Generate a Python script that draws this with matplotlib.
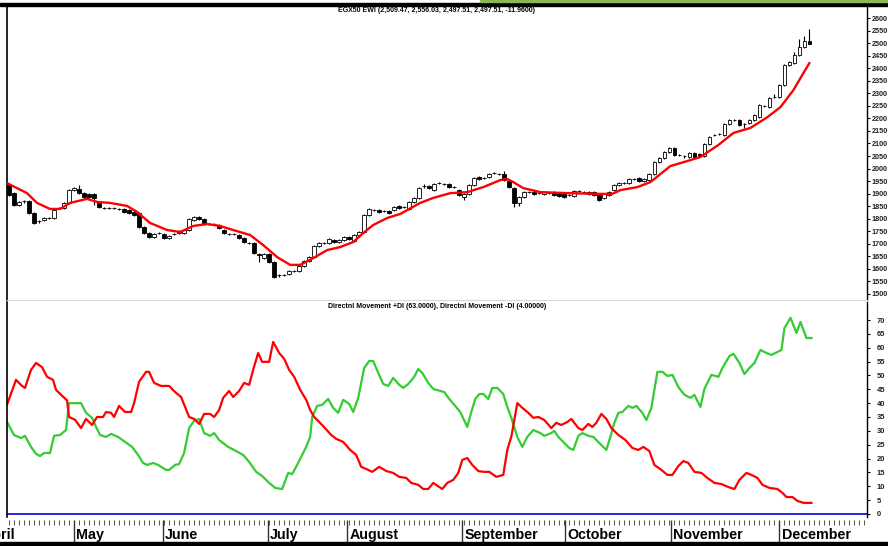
import matplotlib
matplotlib.use("Agg")
import matplotlib.pyplot as plt
from matplotlib.patches import Rectangle

plt.rcParams['font.family'] = ['Liberation Sans', 'DejaVu Sans']

W, H = 888, 546

# EGX50 EWI daily candles (bar index 0..160)
opens = [1934, 1902, 1856, 1870, 1870, 1823, 1791, 1795, 1803, 1803,
         1843, 1843, 1863, 1914, 1918, 1902, 1898, 1898, 1867, 1843,
         1843, 1843, 1839, 1839, 1835, 1827, 1823, 1767, 1743, 1727,
         1743, 1739, 1723, 1739, 1743, 1743, 1755, 1795, 1807, 1799,
         1779, 1779, 1775, 1755, 1739, 1739, 1735, 1723, 1703, 1703,
         1661, 1643, 1659, 1627, 1576, 1576, 1580, 1592, 1592, 1612,
         1632, 1647, 1691, 1703, 1703, 1715, 1707, 1715, 1727, 1711,
         1735, 1747, 1815, 1835, 1835, 1831, 1831, 1835, 1851, 1847,
         1839, 1867, 1882, 1930, 1930, 1914, 1942, 1938, 1938, 1926,
         1914, 1886, 1898, 1934, 1966, 1962, 1966, 1982, 1978, 1978,
         1950, 1922, 1862, 1886, 1906, 1906, 1902, 1898, 1902, 1906,
         1902, 1898, 1894, 1890, 1910, 1906, 1898, 1906, 1894, 1882,
         1894, 1914, 1934, 1942, 1942, 1958, 1962, 1950, 1954, 1978,
         2026, 2042, 2066, 2082, 2054, 2050, 2046, 2062, 2058, 2050,
         2098, 2134, 2138, 2134, 2177, 2193, 2193, 2177, 2181, 2193,
         2205, 2249, 2245, 2285, 2285, 2333, 2413, 2421, 2453, 2484,
         2509.47]
highs = [1942, 1906, 1870, 1874, 1874, 1827, 1795, 1807, 1807, 1839,
         1847, 1867, 1918, 1926, 1934, 1906, 1902, 1902, 1871, 1847,
         1847, 1847, 1843, 1843, 1839, 1831, 1827, 1771, 1747, 1743,
         1747, 1743, 1735, 1743, 1755, 1759, 1803, 1811, 1811, 1803,
         1783, 1783, 1779, 1759, 1743, 1743, 1739, 1727, 1707, 1707,
         1665, 1663, 1663, 1631, 1580, 1580, 1596, 1596, 1616, 1636,
         1651, 1695, 1707, 1707, 1723, 1719, 1719, 1731, 1731, 1739,
         1751, 1819, 1843, 1839, 1839, 1835, 1835, 1851, 1855, 1851,
         1871, 1886, 1926, 1938, 1934, 1942, 1946, 1942, 1942, 1930,
         1918, 1902, 1938, 1966, 1970, 1966, 1982, 1986, 1982, 1990,
         1954, 1926, 1890, 1910, 1910, 1910, 1906, 1910, 1906, 1910,
         1906, 1902, 1898, 1914, 1914, 1910, 1910, 1910, 1898, 1902,
         1910, 1938, 1946, 1946, 1962, 1962, 1966, 1962, 1982, 2030,
         2046, 2070, 2086, 2086, 2058, 2054, 2066, 2066, 2062, 2102,
         2130, 2138, 2142, 2181, 2197, 2197, 2197, 2181, 2197, 2217,
         2257, 2253, 2285, 2297, 2337, 2417, 2429, 2465, 2516, 2528,
         2556.03]
lows = [1890, 1851, 1851, 1863, 1819, 1779, 1783, 1791, 1799, 1799,
        1839, 1839, 1859, 1910, 1898, 1882, 1882, 1855, 1843, 1839,
        1839, 1839, 1835, 1823, 1819, 1811, 1763, 1739, 1723, 1723,
        1739, 1719, 1719, 1735, 1739, 1739, 1751, 1791, 1795, 1775,
        1775, 1775, 1759, 1739, 1735, 1735, 1719, 1703, 1699, 1659,
        1627, 1639, 1623, 1564, 1568, 1572, 1576, 1588, 1588, 1608,
        1628, 1643, 1687, 1699, 1699, 1703, 1703, 1711, 1715, 1707,
        1731, 1743, 1811, 1831, 1823, 1827, 1819, 1831, 1839, 1843,
        1835, 1863, 1878, 1922, 1918, 1910, 1938, 1934, 1922, 1922,
        1890, 1874, 1894, 1930, 1954, 1958, 1962, 1978, 1974, 1950,
        1922, 1847, 1851, 1882, 1902, 1894, 1898, 1894, 1898, 1890,
        1886, 1882, 1890, 1886, 1906, 1902, 1894, 1890, 1870, 1878,
        1890, 1910, 1930, 1938, 1938, 1954, 1946, 1946, 1950, 1974,
        2022, 2038, 2062, 2050, 2050, 2042, 2042, 2042, 2046, 2046,
        2094, 2130, 2134, 2130, 2173, 2189, 2169, 2161, 2177, 2189,
        2201, 2245, 2241, 2281, 2281, 2329, 2409, 2417, 2449, 2480,
        2497.51]
closes = [1894, 1855, 1867, 1870, 1823, 1783, 1791, 1803, 1803, 1835,
          1843, 1863, 1914, 1922, 1902, 1886, 1886, 1882, 1847, 1843,
          1843, 1843, 1839, 1827, 1823, 1815, 1767, 1743, 1727, 1739,
          1743, 1723, 1731, 1739, 1751, 1755, 1799, 1807, 1799, 1779,
          1779, 1779, 1763, 1743, 1739, 1739, 1723, 1707, 1703, 1663,
          1657, 1659, 1627, 1568, 1576, 1576, 1592, 1592, 1612, 1632,
          1647, 1691, 1703, 1703, 1719, 1707, 1715, 1727, 1719, 1735,
          1747, 1815, 1839, 1835, 1827, 1831, 1823, 1847, 1843, 1847,
          1867, 1882, 1922, 1930, 1922, 1938, 1942, 1938, 1926, 1926,
          1894, 1898, 1934, 1962, 1958, 1962, 1978, 1982, 1978, 1954,
          1926, 1862, 1886, 1906, 1906, 1898, 1902, 1906, 1902, 1894,
          1890, 1886, 1894, 1910, 1910, 1906, 1906, 1894, 1874, 1898,
          1906, 1934, 1942, 1942, 1958, 1958, 1950, 1958, 1978, 2026,
          2042, 2066, 2082, 2054, 2054, 2050, 2062, 2046, 2050, 2098,
          2126, 2134, 2138, 2177, 2193, 2193, 2173, 2177, 2193, 2213,
          2253, 2249, 2281, 2285, 2333, 2413, 2425, 2453, 2484, 2508,
          2497.51]

# red moving average
ma_day = [-0.4, 3.6, 5.6, 8.2, 10.2, 12.2, 15.6, 17.6, 20.2, 23.6,
          25.6, 28.2, 31.6, 34.2, 36.8, 39.6, 42.2, 44.8, 48.2, 50.8,
          53.6, 56.2, 58.2, 60.8, 63.6, 66.2, 68.8, 70.8, 72.8, 75.6,
          78.2, 82.2, 84.8, 88.2, 91.6, 94.8, 98.2, 99.6, 100.8, 102.8,
          106.2, 111.6, 118.2, 120.6, 122.2, 125.6, 128.2, 132.2, 135.6, 138.2,
          141.8, 144.8, 148.2, 151.6, 154.2, 156.8, 158.8, 160]
ma_val = [1942, 1902, 1863, 1839, 1839, 1863, 1879, 1867, 1863, 1851,
          1827, 1783, 1755, 1747, 1771, 1779, 1771, 1755, 1735, 1695,
          1647, 1616, 1616, 1643, 1675, 1687, 1707, 1743, 1775, 1803,
          1819, 1863, 1883, 1902, 1906, 1926, 1954, 1958, 1946, 1922,
          1906, 1902, 1899, 1899, 1914, 1926, 1946, 2010, 2030, 2046,
          2094, 2142, 2162, 2205, 2245, 2313, 2381, 2421]

# Directional movement +DI (green)
pdi_day = [-0.4, 1.0, 2.4, 3.2, 4.4, 5.4, 6.2, 7.0, 8.2, 9.0, 10.2, 11.4, 12.0, 13.2, 14.4,
           15.4, 16.6, 17.4, 18.2, 19.4, 20.4, 21.8, 23.2, 24.6, 25.8, 26.8, 27.6, 28.8, 29.8,
           31.4, 32.0, 33.2, 34.0, 35.0, 36.0, 37.0, 38.0, 39.0, 40.2, 41.0, 42.0, 43.8, 45.4,
           46.8, 48.0, 49.4, 50.6, 52.0, 53.2, 54.6, 55.8, 56.6, 57.6, 58.4, 59.4, 60.2, 60.6,
           61.6, 62.6, 63.8, 64.8, 65.8, 66.8, 68.0, 68.8, 69.8, 71.0, 72.0, 72.8, 73.8, 74.8,
           75.8, 76.8, 78.0, 78.8, 79.8, 81.0, 81.8, 82.6, 83.8, 84.8, 86.2, 87.0, 88.0, 89.0,
           90.2, 91.6, 92.4, 93.2, 94.0, 94.8, 95.8, 96.6, 97.6, 98.8, 99.6, 100.4, 101.6, 102.6,
           103.6, 104.8, 106.2, 107.0, 108.4, 109.0, 109.8, 111.0, 112.0, 112.8, 113.8, 114.6,
           115.8, 116.8, 118.0, 119.4, 120.2, 121.0, 121.8, 122.6, 123.8, 124.6, 125.4, 126.6,
           127.4, 128.4, 129.6, 130.6, 131.6, 132.6, 133.8, 135.0, 136.2, 137.0, 138.2, 139.0,
           140.4, 141.8, 142.6, 144.0, 144.8, 146.0, 147.0, 148.0, 149.0, 150.2, 151.4, 152.4,
           153.6, 154.4, 155.0, 156.2, 157.4, 158.2, 159.4, 160.4]
pdi_val = [33.2, 28.5, 27.4, 28.2, 24.2, 21.7, 20.9, 22, 22, 28.2, 28.5, 30.3, 40, 40, 40,
           36.5, 34.7, 31.4, 28.5, 27.8, 28.9, 27.8, 26, 24.2, 21.3, 18.4, 17.7, 18.4, 17.7,
           15.9, 15.9, 17.7, 18, 22, 31, 33.6, 34.3, 29.2, 28.2, 29.2, 26.7, 24.2, 22.7,
           21.3, 18.8, 15.2, 13.7, 11.2, 9.4, 9, 14.8, 14.4, 17.7, 20.6, 24.2, 27.8, 35,
           39, 39.4, 41.5, 38.3, 36.5, 41.2, 39.7, 36.8, 41.9, 52.7, 55.2, 55.2, 50.9, 46.9,
           46.2, 49.1, 46.6, 45.5, 46.9, 49.5, 52.3, 50.9, 47.3, 45.1, 44.4, 44, 41.5, 39.4,
           36.8, 31.4, 36.8, 41.5, 43.3, 43.3, 41.5, 45.5, 45.5, 43.3, 38.6, 34.7, 27.8, 24.2,
           27.8, 30.3, 29.2, 28.2, 29.2, 30, 27.8, 25.6, 23.8, 23.1, 28.2, 29.2,
           28.2, 27.8, 25.6, 23.1, 27.8, 32.9, 36.5, 36.8, 39, 38.3, 39, 36.5,
           33.9, 38.3, 51.3, 51.3, 49.8, 50.2, 45.8, 43, 41.9, 43, 38.6, 45.1,
           50.2, 49.5, 52.7, 57, 57.8, 54.5, 50.5, 52.7, 54.5, 59.2, 58.1, 57.4,
           58.5, 59.2, 67.1, 70.8, 65.3, 69.3, 63.5, 63.5]

# Directional movement -DI (red)
mdi_day = [-0.4, 1.4, 2.6, 3.2, 4.4, 5.4, 6.6, 7.6, 8.8, 9.4, 10.4, 11.6, 12.0, 13.2, 14.4,
           15.4, 16.6, 17.6, 18.8, 19.4, 20.4, 21.0, 22.0, 23.2, 24.4, 25.0, 26.0, 27.4, 28.0,
           29.0, 30.4, 32.0, 33.2, 34.4, 36.0, 37.0, 38.0, 39.0, 40.2, 41.0, 42.0, 42.8, 44.0,
           44.8, 46.0, 47.0, 48.0, 48.8, 49.8, 50.6, 52.0, 52.8, 54.0, 55.0, 56.0, 57.0, 58.2,
           59.4, 60.2, 61.0, 62.6, 64.4, 65.4, 66.8, 68.2, 69.4, 70.4, 71.8, 72.6, 74.0, 75.4,
           76.8, 78.0, 79.4, 80.4, 81.8, 82.8, 83.8, 84.8, 86.6, 87.6, 88.8, 89.8, 90.6, 91.6,
           92.6, 93.8, 94.8, 96.0, 97.4, 98.8, 99.6, 100.4, 101.6, 102.6, 103.8, 104.8, 105.8,
           107.0, 108.4, 109.4, 110.4, 111.6, 112.4, 113.8, 114.6, 115.8, 116.6, 117.4, 118.4,
           119.4, 120.4, 121.8, 123.2, 124.6, 125.8, 126.8, 128.0, 129.0, 130.4, 131.6, 132.6,
           133.8, 134.8, 135.8, 137.0, 138.4, 139.6, 141.0, 142.4, 143.8, 145.0, 146.0, 147.4,
           148.4, 149.6, 150.6, 152.0, 153.6, 154.6, 155.4, 156.6, 157.6, 158.8, 160.4]
mdi_val = [39.4, 48.4, 46.2, 45.5, 52, 54.5, 53, 49.5, 48.4, 44.8, 43, 41, 35, 34, 31,
           34.3, 32.1, 35, 35, 36.8, 36.5, 35, 39, 36.8, 36.8, 40, 47.7, 51.3, 51.3,
           47.3, 46.2, 46.2, 44, 42.2, 35, 34.3, 32.5, 36.1, 36.1, 35, 37.5, 41.9, 44.4,
           42.2, 44.4, 47.3, 46.6, 52, 58.1, 54.9, 54.9, 62.1, 58.1, 56, 52, 49.5, 44.8,
           41.2, 37.5, 35, 32.1, 28.5, 27.1, 26, 23.1, 21.3, 17, 15.9, 15.2, 17, 15.5,
           14.8, 13.4, 13, 11.2, 10.5, 9, 9, 11.2, 9, 11.2, 12.3, 14.8, 19.5, 20.2,
           17.7, 15.5, 15.2, 15.2, 13.4, 14.1, 23.1, 27.8, 40, 38.3, 36.5, 34.7, 35,
           33.9, 31, 32.9, 32.1, 33.2, 34.3, 31, 30.3, 32.5, 31.4, 32.9, 36.1,
           34.3, 31, 28.5, 26.7, 23.8, 23.1, 24.2, 22.7, 17.7, 15.9, 14.1, 14.1,
           17.3, 19.1, 18.4, 15.2, 14.8, 13, 11.2, 10.8, 9.7, 9, 12.3, 14.8,
           14.1, 13, 10.5, 9.4, 9, 7.6, 6.1, 6.1, 4.7, 4.0, 4.0]

month_pos = [-5.6, 13.0, 30.8, 51.8, 67.6, 90.6, 111.2, 132.4, 154.0]
month_names = ['April', 'May', 'June', 'July', 'August', 'September',
               'October', 'November', 'December']

price_title = "EGX50 EWI (2,509.47, 2,556.03, 2,497.51, 2,497.51, -11.9600)"
dmi_title = "Directnl Movement +DI (63.0000), Directnl Movement -DI (4.00000)"

fig = plt.figure(figsize=(W / 100, H / 100), dpi=100)
fig.patch.set_facecolor('white')


# axes placed by pixel box (y measured from the top)
def px_axes(x0, y0, x1, y1):
    return fig.add_axes([x0 / W, 1 - y1 / H, (x1 - x0) / W, (y1 - y0) / H])


ax1 = px_axes(7, 7, 866.5, 300)
ax2 = px_axes(7, 302, 866.5, 517)
ax3 = px_axes(7, 520, 866.5, 542)

XMIN, XMAX = -0.4, 171.4

# candles
days = list(range(len(closes)))
ax1.vlines(days, lows, highs, color='black', lw=0.8, zorder=2)
for d, o, c in zip(days, opens, closes):
    face = 'white' if c > o else 'black'
    ax1.bar(d, abs(c - o), bottom=min(o, c), width=0.75, color=face,
            edgecolor='black', linewidth=0.6, zorder=3)
ax1.plot(ma_day, ma_val, color='#ff0000', lw=1.7, solid_joinstyle='round',
         solid_capstyle='round', zorder=4)
ax1.set_yticks(range(1500, 2601, 50))
ax1.set_xlim(XMIN, XMAX)
ax1.set_ylim(1476, 2644)
ax1.text(0.5, 1 - 4 / 293, price_title, transform=ax1.transAxes, ha='center',
         va='center', fontsize=5, fontweight='bold')

# DMI panel
ax2.axhline(0, color='#0000dd', lw=1.2)
ax2.plot(pdi_day, pdi_val, color='#33cc33', lw=1.6, solid_joinstyle='round')
ax2.plot(mdi_day, mdi_val, color='#ff0000', lw=1.6, solid_joinstyle='round')
ax2.set_yticks(range(0, 71, 5))
ax2.set_xlim(XMIN, XMAX)
ax2.set_ylim(-1.1, 76.5)
ax2.text(0.5, 1 - 5 / 215, dmi_title, transform=ax2.transAxes, ha='center',
         va='center', fontsize=5, fontweight='bold')

for ax, pad, fs in ((ax1, 1.0, 5.2), (ax2, 5.0, 5.4)):
    ax.yaxis.tick_right()
    ax.tick_params(axis='y', direction='out', length=2.5, width=0.8,
                   pad=pad, labelsize=fs, labelcolor='#222222')
    for lab in ax.get_yticklabels():
        lab.set_fontweight('bold')
    ax.tick_params(axis='x', bottom=False, labelbottom=False)
    ax.spines['right'].set_linestyle((0, (1, 1)))
    ax.spines['right'].set_linewidth(1.0)
    ax.spines['left'].set_linewidth(1.2)
    ax.spines['top'].set_visible(False)

ax1.spines['bottom'].set_color('#d8d8d8')
ax2.spines['bottom'].set_visible(False)

# date strip (ticks first, then limits, so the limits are not widened)
ax3.set_xticks(month_pos)
ax3.set_xticks(range(0, 172), minor=True)
ax3.set_xlim(XMIN, XMAX)
ax3.set_ylim(0, 1)
ax3.set_yticks([])
for s in ax3.spines.values():
    s.set_visible(False)
ax3.xaxis.set_ticks_position('top')
ax3.tick_params(axis='x', which='major', direction='in', length=16, width=1.0,
                labeltop=False, colors='#333333')
ax3.tick_params(axis='x', which='minor', direction='in', length=3.6, width=0.6,
                colors='#333333')
for pos, name in zip(month_pos, month_names):
    ax3.annotate(name, (pos, 0.14), xytext=(1.5, 0), textcoords='offset points',
                 ha='left', va='baseline', fontsize=10.3, fontweight='bold',
                 annotation_clip=False)

# chart frame bands
fig.patches.append(Rectangle((0, 1 - 6 / H), 1, 3 / H, transform=fig.transFigure,
                             color='black', zorder=0))
fig.patches.append(Rectangle((480 / W, 1 - 2 / H), 1, 2 / H, transform=fig.transFigure,
                             color='#8db850', zorder=0))
fig.patches.append(Rectangle((0, 0), 1, 4 / H, transform=fig.transFigure,
                             color='black', zorder=0))

fig.savefig('out.png', dpi=100)
